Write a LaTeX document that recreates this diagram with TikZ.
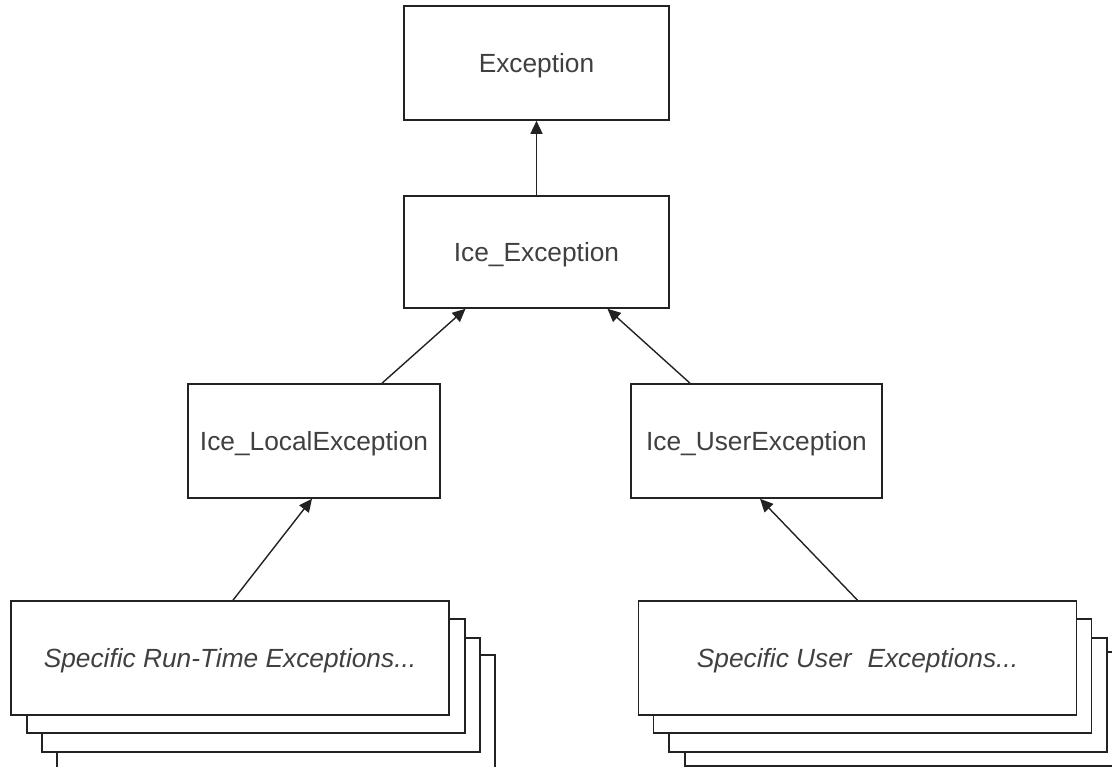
\documentclass[tikz,border=0pt]{standalone}
\usepackage{fontspec}
\setmainfont{Liberation Sans}
\usetikzlibrary{arrows.meta,calc}
\definecolor{txt}{HTML}{404040}
\definecolor{ln}{HTML}{222222}
\begin{document}
\begin{tikzpicture}[x=1pt,y=-1pt,
  box/.style={draw=ln,line width=1.6pt,fill=white,rectangle,inner sep=0pt,
    text=txt,font=\fontsize{26.3}{30}\selectfont,text height=24pt,text depth=5pt},
  cls/.style={box,minimum height=113pt},
  spec/.style={box,minimum width=438pt,minimum height=114pt,font=\fontsize{26.3}{30}\selectfont\itshape},
  inh/.style={draw=ln,line width=1.4pt,-{Triangle[length=13pt,width=12pt]}}]
\useasboundingbox (0,0) rectangle (1112,767);
\node[cls,minimum width=265pt,minimum height=114pt] (exc) at (536.5,63) {Exception};
\node[cls,minimum width=265pt,minimum height=112pt] (ice) at (536.5,252) {Ice\_Exception};
\node[cls,minimum width=252pt,minimum height=114pt] (loc) at (314,441) {Ice\_LocalException};
\node[cls,minimum width=251pt,minimum height=114pt] (usr) at (756.5,441) {Ice\_UserException};
% left stack
\node[spec] (l4) at (276,712) {};
\node[spec] (l3) at (261,695) {};
\node[spec] (l2) at (246,676) {};
\node[spec] (l1) at (230,658) {Specific Run-Time Exceptions...};
% right stack
\node[spec] (r4) at (904,709) {};
\node[spec] (r3) at (888,695) {};
\node[spec] (r2) at (872.5,676) {};
\node[spec] (r1) at (857.5,658) {Specific User\hspace{0.6em}Exceptions...};
% connectors
\draw[inh] (ice.north) -- (exc.south);
\draw[inh] ($(loc.north)+(68,0)$) -- ($(ice.south)+(-71,0)$);
\draw[inh] ($(usr.north)+(-66.5,0)$) -- ($(ice.south)+(71,0)$);
\draw[inh] ($(l1.north)+(3,0)$) -- ($(loc.south)+(-2,0)$);
\draw[inh] (r1.north) -- ($(usr.south)+(3.5,0)$);
\end{tikzpicture}
\end{document}
